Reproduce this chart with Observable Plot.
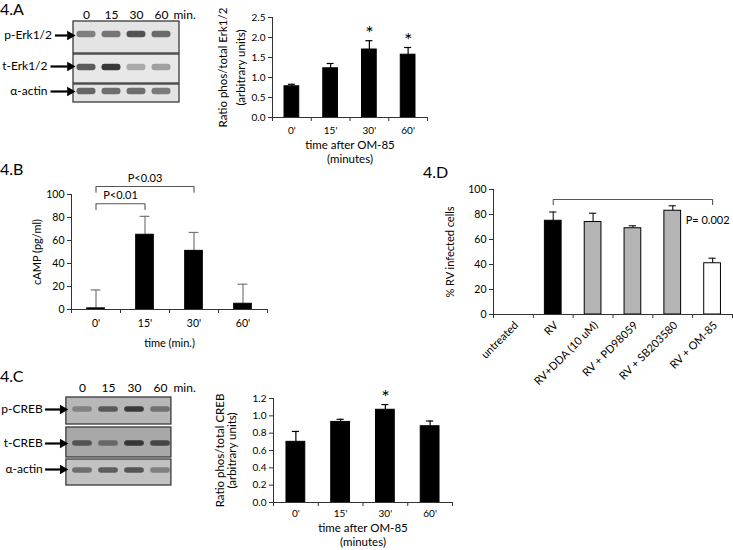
<!DOCTYPE html>
<html><head><meta charset="utf-8">
<script src="https://cdn.jsdelivr.net/npm/d3@7"></script>
<script src="https://cdn.jsdelivr.net/npm/@observablehq/plot@0.6"></script>
<style>
body{margin:0;background:#fff;}
#root{position:relative;width:733px;height:550px;overflow:hidden;font-family:Lato,"Open Sans",sans-serif;background:#fff;}
.panel{position:absolute;}
.plabel{position:absolute;font-size:16px;line-height:1;color:#000;font-family:Lato,"Open Sans",sans-serif;}
</style></head><body><div id="root"></div>
<script>
// ---------- DATA ----------
// 4.A  p-Erk / t-Erk ratio
const timesA = ["0'", "15'", "30'", "60'"];
const erkRatio = [0.78, 1.23, 1.70, 1.57];
const erkErr = [0.05, 0.12, 0.22, 0.18];
const erkSig = [false, false, true, true];
const erkYTicks = [0, 0.5, 1, 1.5, 2, 2.5];

// 4.B  cAMP
const timesB = ["0'", "15'", "30'", "60'"];
const camp = [1, 65, 51, 5];
const campErr = [16, 16, 16, 17];
const campYTicks = [0, 20, 40, 60, 80, 100];
const campBracketFrom = [0, 0];
const campBracketTo = [1, 2];
const campBracketLabel = ["P<0.01", "P<0.03"];
const campBracketLevel = [92, 107];

// 4.C  p-CREB / t-CREB ratio
const timesC = ["0'", "15'", "30'", "60'"];
const crebRatio = [0.70, 0.93, 1.07, 0.88];
const crebErr = [0.12, 0.03, 0.06, 0.06];
const crebSig = [false, false, true, false];
const crebYTicks = [0, 0.2, 0.4, 0.6, 0.8, 1, 1.2];

// 4.D  % RV infected cells
const treatments = ["untreated", "RV", "RV+DDA (10 uM)", "RV + PD98059", "RV + SB203580", "RV + OM-85"];
const infected = [null, 75, 74, 69, 83, 41];
const infectedErr = [null, 7, 7, 2, 4, 4];
const treatmentGroup = ["none", "RV", "inhibitor", "inhibitor", "inhibitor", "OM-85"];
const infectedYTicks = [0, 20, 40, 60, 80, 100];
const dBracketFrom = [1];
const dBracketTo = [5];
const dBracketLabel = ["P= 0.002"];
const dBracketLevel = [92];

// Western blots (lanes and relative band intensities)
const blotLanes = ["0", "15", "30", "60"];
const erkBlotRows = ["p-Erk1/2", "t-Erk1/2", "α-actin"];
const erkBands = [[0.5, 0.55, 0.72, 0.6], [0.68, 0.85, 0.3, 0.35], [0.62, 0.58, 0.58, 0.52]];
const crebBlotRows = ["p-CREB", "t-CREB", "α-actin"];
const crebBands = [[0.35, 0.6, 0.8, 0.45], [0.6, 0.45, 0.8, 0.7], [0.5, 0.6, 0.65, 0.4]];

// ---------- STYLE / LAYOUT ----------
const FONT = "Lato, 'Open Sans', sans-serif";
const AXIS = "#333";
const groupFill = {none: "#fff", RV: "#000", inhibitor: "#b4b4b4", "OM-85": "#fff"};
const root = document.getElementById("root");

function place(node, left, top) {
  const d = document.createElement("div");
  d.className = "panel";
  d.style.left = left + "px";
  d.style.top = top + "px";
  d.appendChild(node);
  root.appendChild(d);
  return node;
}
function label(text, left, top) {
  const d = document.createElement("div");
  d.className = "plabel";
  d.style.left = left + "px";
  d.style.top = top + "px";
  d.textContent = text;
  root.appendChild(d);
}

function barPanel(c) {
  const n = c.cats.length;
  const rows = c.cats.map((cat, i) => ({
    i, cat, v: c.values[i], e: c.errs[i],
    fill: c.fills ? c.fills[i] : "#000",
    sig: c.sig ? c.sig[i] : false
  })).filter(d => d.v != null);
  const hw = c.barHalf, ch = c.capHalf;
  const marks = [
    Plot.ruleX(rows, {x: d => d.i + 0.5, y1: "v", y2: d => d.v + d.e, stroke: c.errColor, strokeWidth: 1.2}),
    Plot.ruleY(rows, {y: d => d.v + d.e, x1: d => d.i + 0.5 - ch, x2: d => d.i + 0.5 + ch, stroke: c.errColor, strokeWidth: 1.2}),
    Plot.rectY(rows, {x1: d => d.i + 0.5 - hw, x2: d => d.i + 0.5 + hw, y1: 0, y2: "v", fill: "fill", stroke: "#000", strokeWidth: 1, inset: 0}),
    Plot.ruleX([0], {stroke: AXIS}),
    Plot.ruleY([0], {stroke: AXIS}),
    Plot.axisY({ticks: c.yTicks, tickSize: 4, tickPadding: 3, stroke: AXIS, fill: "#000", fontSize: c.tickFont, label: null}),
    Plot.axisX({ticks: d3.range(n + 1), tickSize: 4, tickFormat: () => "", stroke: AXIS, label: null})
  ];
  if (c.rotateCats) {
    marks.push(Plot.text(c.cats, {x: (d, i) => i + 0.5, y: 0, dy: c.catDy, dx: c.catDx, rotate: -45,
      textAnchor: "end", lineAnchor: "middle", fontSize: c.catFont || c.tickFont, text: d => d}));
  } else {
    marks.push(Plot.text(c.cats, {x: (d, i) => i + 0.5, frameAnchor: "bottom", dy: c.catDy,
      textAnchor: "middle", lineAnchor: "middle", fontSize: c.tickFont, text: d => d}));
  }
  (c.xTitles || []).forEach((t, k) => marks.push(Plot.text([t], {frameAnchor: "bottom", dy: c.xTitleDy[k],
    textAnchor: "middle", lineAnchor: "middle", fontSize: c.titleFont})));
  (c.yTitles || []).forEach((t, k) => marks.push(Plot.text([t], {frameAnchor: "left", dx: c.yTitleDx[k], rotate: -90,
    textAnchor: "middle", lineAnchor: "middle", fontSize: c.titleFont})));
  if (c.sig) {
    marks.push(Plot.text(rows.filter(d => d.sig), {x: d => d.i + 0.5, y: d => d.v + d.e, dy: -1, text: () => "*",
      lineAnchor: "bottom", fontSize: 20}));
  }
  if (c.brackets) {
    const pts = [];
    c.brackets.from.forEach((f, k) => {
      const t = c.brackets.to[k], lv = c.brackets.level[k], leg = c.brackets.leg;
      pts.push({id: k, x: f + 0.5, y: lv - leg}, {id: k, x: f + 0.5, y: lv}, {id: k, x: t + 0.5, y: lv}, {id: k, x: t + 0.5, y: lv - leg});
    });
    marks.push(Plot.line(pts, {x: "x", y: "y", z: "id", stroke: c.bracketColor, strokeWidth: 1.1}));
    const labs = c.brackets.label.map((l, k) => ({l,
      x: c.brackets.labelAtEnd ? c.brackets.to[k] + 0.5 : (c.brackets.from[k] + c.brackets.to[k]) / 2 + 0.5,
      y: c.brackets.level[k]}));
    marks.push(Plot.text(labs, {x: "x", y: "y", text: "l", dy: c.brackets.labelDy, dx: c.brackets.labelDx || 0,
      fontSize: c.titleFont, textAnchor: "middle", lineAnchor: "middle"}));
  }
  return Plot.plot({
    width: c.width, height: c.height,
    marginLeft: c.ml, marginRight: c.mr, marginTop: c.mt, marginBottom: c.mb,
    x: {domain: [0, n], label: null, axis: null},
    y: {domain: c.yDomain, label: null, axis: null},
    color: {type: "identity"},
    style: {fontFamily: FONT, fontSize: c.tickFont + "px", color: "#000", background: "transparent", overflow: "visible"},
    marks
  });
}

function blotPanel(c) {
  const L = c.layout;
  const blots = c.rows.map((name, r) => ({name, top: L.tops[r], bottom: L.bottoms[r], y: L.ys[r], bg: L.bgs[r],
    labelEnd: L.labelEnd[r], arrowStart: L.arrowStart[r]}));
  const bands = [];
  c.bands.forEach((arr, r) => arr.forEach((v, i) => bands.push({lane: i, y: L.bandYs[r], v, bg: L.bgs[r]})));
  const svg = Plot.plot({
    width: c.width, height: c.height, margin: 0,
    x: {domain: [0, 3], range: L.laneRange, axis: null},
    y: {domain: L.yDomain, range: [0, c.height], axis: null},
    color: {type: "identity"},
    style: {fontFamily: FONT, fontSize: "12px", color: "#000", background: "transparent", overflow: "visible"},
    marks: [
      Plot.rect(blots, {x1: L.left, x2: L.right, y1: "top", y2: "bottom", fill: "bg", stroke: "#3a3a3a", strokeWidth: 1.3}),
      Plot.rect(bands, {x1: d => d.lane - L.bandHalfW, x2: d => d.lane + L.bandHalfW,
        y1: d => d.y - L.bandHalfH, y2: d => d.y + L.bandHalfH, rx: 3,
        fill: d => d3.interpolateRgb(d.bg, "#1a1a1a")(d.v), ariaLabel: "band"}),
      Plot.text(c.lanes, {x: (d, i) => i, y: L.laneY, text: d => d, fontSize: 12}),
      Plot.text(["min."], {x: L.minX, y: L.laneY, textAnchor: "start", fontSize: 12}),
      Plot.text(blots, {x: "labelEnd", y: "y", text: "name", textAnchor: "end", fontSize: 12}),
      Plot.ruleY(blots, {y: "y", x1: "arrowStart", x2: L.arrowEnd - 0.2, stroke: "#000", strokeWidth: 2.2}),
      Plot.dot(blots, {x: L.arrowEnd - 0.12, y: "y", symbol: "triangle", r: 3.6, rotate: 90, fill: "#000", stroke: "none"})
    ]
  });
  const ns = "http://www.w3.org/2000/svg";
  const defs = document.createElementNS(ns, "defs");
  const filter = document.createElementNS(ns, "filter");
  filter.setAttribute("id", c.id + "-blur");
  filter.setAttribute("x", "-30%"); filter.setAttribute("y", "-100%");
  filter.setAttribute("width", "160%"); filter.setAttribute("height", "300%");
  const blur = document.createElementNS(ns, "feGaussianBlur");
  blur.setAttribute("stdDeviation", "1.6 1.2");
  filter.appendChild(blur); defs.appendChild(filter);
  svg.insertBefore(defs, svg.firstChild);
  svg.querySelectorAll('g[aria-label="band"]').forEach(g => g.setAttribute("filter", `url(#${c.id}-blur)`));
  return svg;
}

// ---------- 4.A blot ----------
place(blotPanel({
  id: "blotA", width: 200, height: 110, lanes: blotLanes, rows: erkBlotRows, bands: erkBands,
  layout: {yDomain: [0, 110], laneRange: [86, 161], left: -0.52, right: 3.72,
    tops: [21, 54, 84], bottoms: [53, 83, 102], ys: [35, 66, 91], bandYs: [34, 67, 91],
    bgs: ["#e4e4e4", "#e8e8e8", "#e4e4e4"], bandHalfW: 0.38, bandHalfH: 3.2,
    laneY: 15, minX: 3.48, labelEnd: [-1.38, -1.56, -1.56], arrowStart: [-1.24, -1.42, -1.42], arrowEnd: -0.54}
}), 0, 0);

// ---------- 4.A chart ----------
place(barPanel({
  cats: timesA, values: erkRatio, errs: erkErr, sig: erkSig, yDomain: [0, 2.5], yTicks: erkYTicks,
  width: 240, height: 170, ml: 72, mr: 13, mt: 17, mb: 53,
  barHalf: 0.19, capHalf: 0.09, errColor: "#000", tickFont: 10, titleFont: 11.5,
  catDy: 13, xTitles: ["time after OM-85", "(minutes)"], xTitleDy: [28, 42],
  yTitles: ["Ratio phos/total Erk1/2", "(arbitrary units)"], yTitleDx: [-49, -31]
}), 200, 0);

// ---------- 4.B chart ----------
place(barPanel({
  cats: timesB, values: camp, errs: campErr, yDomain: [0, 100], yTicks: campYTicks,
  width: 280, height: 190, ml: 71, mr: 13, mt: 29, mb: 46,
  barHalf: 0.18, capHalf: 0.1, errColor: "#777", tickFont: 10.5, titleFont: 11,
  catDy: 14, xTitles: ["time (min.)"], xTitleDy: [34],
  yTitles: ["cAMP (pg/ml)"], yTitleDx: [-34],
  brackets: {from: campBracketFrom, to: campBracketTo, label: campBracketLabel, level: campBracketLevel, leg: 5, labelDy: -8},
  bracketColor: "#555"
}), 0, 165);

// ---------- 4.C blot ----------
place(blotPanel({
  id: "blotC", width: 200, height: 120, lanes: blotLanes, rows: crebBlotRows, bands: crebBands,
  layout: {yDomain: [375, 495], laneRange: [82, 160], left: -0.62, right: 3.42,
    tops: [397, 427, 459], bottoms: [424, 457, 485], ys: [409, 443, 469], bandYs: [409, 443, 470],
    bgs: ["#b8b8b8", "#a8a8a8", "#c2c2c2"], bandHalfW: 0.38, bandHalfH: 2.8,
    laneY: 388, minX: 3.5, labelEnd: [-1.53, -1.53, -1.53], arrowStart: [-1.42, -1.42, -1.42], arrowEnd: -0.64}
}), 0, 375);

// ---------- 4.C chart ----------
place(barPanel({
  cats: timesC, values: crebRatio, errs: crebErr, sig: crebSig, yDomain: [0, 1.2], yTicks: crebYTicks,
  width: 260, height: 175, ml: 73, mr: 8, mt: 23, mb: 48,
  barHalf: 0.21, capHalf: 0.08, errColor: "#000", tickFont: 10, titleFont: 11.5,
  catDy: 11, xTitles: ["time after OM-85", "(minutes)"], xTitleDy: [26, 40],
  yTitles: ["Ratio phos/total CREB", "(arbitrary units)"], yTitleDx: [-53, -41]
}), 200, 375);

// ---------- 4.D chart ----------
place(barPanel({
  cats: treatments, values: infected, errs: infectedErr, yDomain: [0, 100], yTicks: infectedYTicks,
  fills: treatmentGroup.map(g => groupFill[g]),
  width: 333, height: 220, ml: 93, mr: 1, mt: 24, mb: 71,
  barHalf: 0.21, capHalf: 0.09, errColor: "#222", tickFont: 10.5, titleFont: 11, catFont: 11,
  rotateCats: true, catDy: 9, catDx: 3,
  yTitles: ["% RV infected cells"], yTitleDx: [-43],
  brackets: {from: dBracketFrom, to: dBracketTo, label: dBracketLabel, level: dBracketLevel, leg: 4, labelDy: 21, labelDx: -5, labelAtEnd: true},
  bracketColor: "#555"
}), 400, 165);

// panel labels
label("4.A", 0, 1);
label("4.B", 0, 161);
label("4.C", 0, 368);
label("4.D", 423, 164);
</script></body></html>
